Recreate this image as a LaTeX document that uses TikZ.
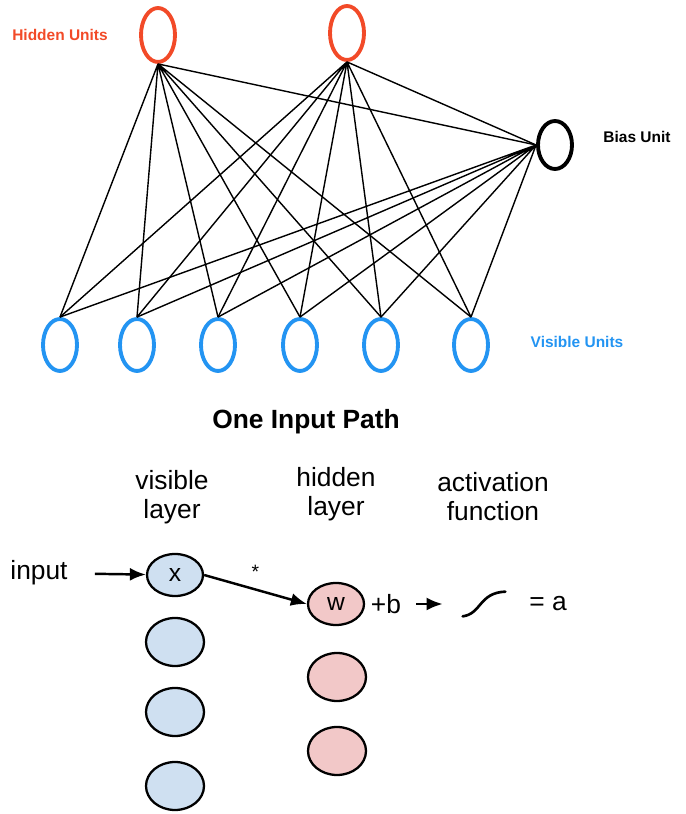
\documentclass[tikz,border=0pt]{standalone}
\usepackage{fontspec}
\setmainfont{Liberation Sans}
\usepackage{tikz}
\usetikzlibrary{positioning, arrows.meta, shapes.geometric, calc}

\definecolor{hidred}{HTML}{F24A28}
\definecolor{visblue}{HTML}{2394F2}
\definecolor{xfill}{HTML}{CFE0F1}
\definecolor{wfill}{HTML}{F2C8C8}

\begin{document}
\begin{tikzpicture}[
    unit/.style={ellipse, line width=2.2pt, minimum width=0.68cm,
                 minimum height=1.08cm, inner sep=0pt},
    hidden/.style={unit, draw=hidred},
    visible/.style={unit, draw=visblue, minimum height=1.04cm},
    bias/.style={unit, draw=black, minimum height=0.96cm},
    link/.style={line width=0.8pt},
    xnode/.style={ellipse, draw=black, line width=1.3pt, fill=xfill, minimum width=1.12cm,
                  minimum height=0.84cm, inner sep=0pt, font=\fontsize{14}{15}\selectfont},
    wnode/.style={xnode, fill=wfill},
    blank/.style={minimum width=1.16cm, minimum height=0.96cm},
    arrow/.style={-{Latex[length=3.2mm, width=2.6mm]}, line width=1.4pt},
    tag/.style={font=\bfseries\fontsize{8.8}{10}\selectfont},
    label/.style={font=\fontsize{15}{16.5}\selectfont, align=center}
]
    \useasboundingbox (0,0) rectangle (13.72,16.28);

    % Hidden units
    \node[hidden] (h1) at (3.16, 15.58) {};
    \node[hidden] (h2) at (6.94, 15.62) {};
    \node[tag, text=hidred] (hlab) at (1.20, 15.58) {Hidden Units};

    % Bias unit
    \node[bias] (b) at (11.10, 13.38) {};
    \node[tag] (blab) at (12.74, 13.54) {Bias Unit};

    % Visible units
    \node[visible] (v1) at (1.20, 9.38) {};
    \node[visible] (v2) at (2.74, 9.38) {};
    \node[visible] (v3) at (4.36, 9.38) {};
    \node[visible] (v4) at (6.00, 9.38) {};
    \node[visible] (v5) at (7.62, 9.38) {};
    \node[visible] (v6) at (9.42, 9.38) {};
    \node[tag, text=visblue] (vlab) at (11.54, 9.44) {Visible Units};

    % Connections
    \draw[link] (h1.south) -- (v1.north) (h1.south) -- (v2.north) (h1.south) -- (v3.north)
                (h1.south) -- (v4.north) (h1.south) -- (v5.north) (h1.south) -- (v6.north)
                (h1.south) -- (b.west);
    \draw[link] (h2.south) -- (v1.north) (h2.south) -- (v2.north) (h2.south) -- (v3.north)
                (h2.south) -- (v4.north) (h2.south) -- (v5.north) (h2.south) -- (v6.north)
                (h2.south) -- (b.west);
    \draw[link] (b.west) -- (v1.north) (b.west) -- (v2.north) (b.west) -- (v3.north)
                (b.west) -- (v4.north) (b.west) -- (v5.north) (b.west) -- (v6.north);

    % Title
    \node[font=\bfseries\fontsize{15}{16}\selectfont] (title) at (6.12, 7.84) {One Input Path};

    % Layer headings
    \node[label] (vhead) at (3.44, 6.34) {visible\\layer};
    \node[label] (hhead) at (6.72, 6.40) {hidden\\layer};
    \node[label] (ahead) at (9.86, 6.34) {activation\\function};

    % Visible layer
    \node[xnode] (x) at (3.50, 4.78) {x};
    \node[xnode, blank] (x2) at (3.50, 3.44) {};
    \node[xnode, blank] (x3) at (3.50, 2.04) {};
    \node[xnode, blank] (x4) at (3.50, 0.56) {};

    % Hidden layer
    \node[wnode] (w) at (6.72, 4.20) {w};
    \node[wnode, blank] (w2) at (6.74, 2.74) {};
    \node[wnode, blank] (w3) at (6.74, 1.26) {};

    % Input path
    \node[label] (input) at (0.78, 4.82) {input};
    \node[label] (plusb) at (7.72, 4.20) {+b};
    \node[minimum width=0.84cm, minimum height=0.48cm, inner sep=0pt] (sig) at (9.68, 4.20) {};
    \node[label] (out) at (10.96, 4.20) {= a};

    \draw[arrow, shorten <=0.42cm] (input) -- (x);
    \draw[arrow] (x.east) -- (w.west) node[midway, above=2pt, font=\fontsize{11}{12}\selectfont] {*};
    \draw[arrow, shorten <=0.18cm, shorten >=0.4cm] (plusb) -- (sig);
    \draw[line width=1.5pt, line cap=round] (sig.south west)
        .. controls ($(sig.south)+(-0.05,0.05)$) and ($(sig.north)+(-0.1,-0.02)$) .. (sig.north east);

\end{tikzpicture}
\end{document}
